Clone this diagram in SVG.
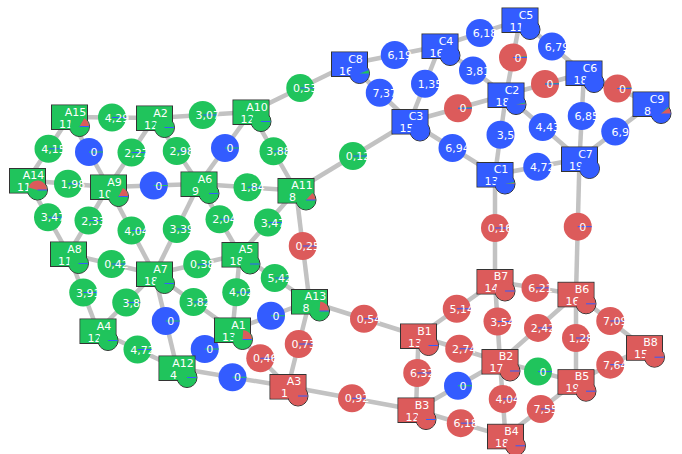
<svg xmlns="http://www.w3.org/2000/svg" xmlns:xlink="http://www.w3.org/1999/xlink" width="682" height="454" viewBox="0 0 682 454">
<style>
.e{stroke:#c2c2c2;stroke-width:4.5;fill:none}
.G{color:#20c45c}.B{color:#335cff}.R{color:#dc5b5b}
text{font-family:"DejaVu Sans","Liberation Sans",sans-serif;font-size:11px;fill:#fff;text-anchor:middle}
.pb{stroke:#335cff;stroke-width:1;fill:none}
.pg{stroke:#20c45c;stroke-width:1;fill:none}
.sr{fill:#dc5b5b}.sg{fill:#20c45c}
</style>
<defs>
<g id="sq">
<rect x="-18" y="-12" width="36" height="24.5" fill="currentColor" stroke="#333" stroke-width="1"/>
<circle cx="10" cy="9.5" r="10" fill="currentColor" stroke="#333" stroke-width="1"/>
<rect x="-17.5" y="-11.5" width="35" height="23.5" fill="currentColor"/>
</g>
<circle id="cap" cx="10" cy="9.5" r="9.5" fill="currentColor"/>
<circle id="dot" r="14" fill="currentColor"/>
<path id="lb" class="pb" d="M0,0h14"/>
<path id="lg" class="pg" d="M0,0h14"/>
<path id="sqb" class="pb" d="M10,9.5h9.5"/>
</defs>
<g id="edges" class="e">
<line x1="69.5" y1="117" x2="154.5" y2="118"/>
<line x1="154.5" y1="118" x2="251" y2="112"/>
<line x1="251" y1="112" x2="349.5" y2="64"/>
<line x1="69.5" y1="117" x2="27.5" y2="180.5"/>
<line x1="69.5" y1="117" x2="108.5" y2="187"/>
<line x1="154.5" y1="118" x2="108.5" y2="187"/>
<line x1="154.5" y1="118" x2="199" y2="184"/>
<line x1="251" y1="112" x2="199" y2="184"/>
<line x1="251" y1="112" x2="296" y2="190.5"/>
<line x1="27.5" y1="180.5" x2="108.5" y2="187"/>
<line x1="108.5" y1="187" x2="199" y2="184"/>
<line x1="199" y1="184" x2="296" y2="190.5"/>
<line x1="296" y1="190.5" x2="410" y2="121.5"/>
<line x1="27.5" y1="180.5" x2="68.5" y2="254"/>
<line x1="108.5" y1="187" x2="68.5" y2="254"/>
<line x1="108.5" y1="187" x2="154.5" y2="274"/>
<line x1="199" y1="184" x2="154.5" y2="274"/>
<line x1="199" y1="184" x2="240" y2="254.5"/>
<line x1="296" y1="190.5" x2="240" y2="254.5"/>
<line x1="296" y1="190.5" x2="309.5" y2="301.5"/>
<line x1="68.5" y1="254" x2="154.5" y2="274"/>
<line x1="154.5" y1="274" x2="240" y2="254.5"/>
<line x1="240" y1="254.5" x2="309.5" y2="301.5"/>
<line x1="68.5" y1="254" x2="98" y2="331"/>
<line x1="154.5" y1="274" x2="98" y2="331"/>
<line x1="154.5" y1="274" x2="232.5" y2="330"/>
<line x1="240" y1="254.5" x2="232.5" y2="330"/>
<line x1="154.5" y1="274" x2="177" y2="368"/>
<line x1="232.5" y1="330" x2="309.5" y2="301.5"/>
<line x1="98" y1="331" x2="177" y2="368"/>
<line x1="177" y1="368" x2="232.5" y2="330"/>
<line x1="309.5" y1="301.5" x2="288" y2="386.5"/>
<line x1="232.5" y1="330" x2="288" y2="386.5"/>
<line x1="177" y1="368" x2="288" y2="386.5"/>
<line x1="309.5" y1="301.5" x2="418.5" y2="336"/>
<line x1="288" y1="386.5" x2="416" y2="410"/>
<line x1="349.5" y1="64" x2="440" y2="46"/>
<line x1="349.5" y1="64" x2="410" y2="121.5"/>
<line x1="440" y1="46" x2="410" y2="121.5"/>
<line x1="440" y1="46" x2="520" y2="20"/>
<line x1="440" y1="46" x2="506" y2="95"/>
<line x1="410" y1="121.5" x2="506" y2="95"/>
<line x1="410" y1="121.5" x2="495" y2="174.5"/>
<line x1="520" y1="20" x2="506" y2="95"/>
<line x1="520" y1="20" x2="584" y2="73"/>
<line x1="506" y1="95" x2="584" y2="73"/>
<line x1="584" y1="73" x2="651" y2="104"/>
<line x1="506" y1="95" x2="495" y2="174.5"/>
<line x1="506" y1="95" x2="579.5" y2="159"/>
<line x1="584" y1="73" x2="579.5" y2="159"/>
<line x1="651" y1="104" x2="579.5" y2="159"/>
<line x1="495" y1="174.5" x2="579.5" y2="159"/>
<line x1="495" y1="174.5" x2="495" y2="281.5"/>
<line x1="579.5" y1="159" x2="576" y2="294.3"/>
<line x1="418.5" y1="336" x2="495" y2="281.5"/>
<line x1="495" y1="281.5" x2="576" y2="294.3"/>
<line x1="495" y1="281.5" x2="500" y2="361.5"/>
<line x1="576" y1="294.3" x2="500" y2="361.5"/>
<line x1="576" y1="294.3" x2="576" y2="381.7"/>
<line x1="576" y1="294.3" x2="644.5" y2="347.7"/>
<line x1="644.5" y1="347.7" x2="576" y2="381.7"/>
<line x1="418.5" y1="336" x2="500" y2="361.5"/>
<line x1="418.5" y1="336" x2="416" y2="410"/>
<line x1="416" y1="410" x2="500" y2="361.5"/>
<line x1="500" y1="361.5" x2="576" y2="381.7"/>
<line x1="500" y1="361.5" x2="505.5" y2="436.3"/>
<line x1="576" y1="381.7" x2="505.5" y2="436.3"/>
<line x1="416" y1="410" x2="505.5" y2="436.3"/>
</g>
<g id="edge-nodes">
<g id="m-A15-A2" class="G" transform="translate(112,117.5)"><use href="#dot"/><use href="#lb"/><text x="5" y="4">4,29</text></g>
<g id="m-A2-A10" class="G" transform="translate(202.75,115)"><use href="#dot"/><use href="#lb"/><text x="5" y="4">3,07</text></g>
<g id="m-A10-C8" class="G" transform="translate(300.25,88)"><use href="#dot"/><use href="#lb"/><text x="5" y="4">0,53</text></g>
<g id="m-A15-A14" class="G" transform="translate(48.5,148.75)"><use href="#dot"/><use href="#lb"/><text x="5" y="4">4,15</text></g>
<g id="m-A15-A9" class="B" transform="translate(89,152)"><use href="#dot"/><use href="#lg"/><text x="5" y="4">0</text></g>
<g id="m-A2-A9" class="G" transform="translate(131.5,152.5)"><use href="#dot"/><use href="#lb"/><text x="5" y="4">2,27</text></g>
<g id="m-A2-A6" class="G" transform="translate(176.75,151)"><use href="#dot"/><use href="#lb"/><text x="5" y="4">2,98</text></g>
<g id="m-A10-A6" class="B" transform="translate(225,148)"><use href="#dot"/><use href="#lg"/><text x="5" y="4">0</text></g>
<g id="m-A10-A11" class="G" transform="translate(273.5,151.25)"><use href="#dot"/><use href="#lb"/><text x="5" y="4">3,88</text></g>
<g id="m-A14-A9" class="G" transform="translate(68,183.75)"><use href="#dot"/><use href="#lb"/><text x="5" y="4">1,98</text></g>
<g id="m-A9-A6" class="B" transform="translate(153.75,185.5)"><use href="#dot"/><use href="#lg"/><text x="5" y="4">0</text></g>
<g id="m-A6-A11" class="G" transform="translate(247.5,187.25)"><use href="#dot"/><use href="#lb"/><text x="5" y="4">1,84</text></g>
<g id="m-A11-C3" class="G" transform="translate(353,156)"><use href="#dot"/><use href="#lb"/><text x="5" y="4">0,12</text></g>
<g id="m-A14-A8" class="G" transform="translate(48,217.25)"><use href="#dot"/><use href="#lb"/><text x="5" y="4">3,47</text></g>
<g id="m-A9-A8" class="G" transform="translate(88.5,220.5)"><use href="#dot"/><use href="#lb"/><text x="5" y="4">2,33</text></g>
<g id="m-A9-A7" class="G" transform="translate(131.5,230.5)"><use href="#dot"/><use href="#lb"/><text x="5" y="4">4,04</text></g>
<g id="m-A6-A7" class="G" transform="translate(176.75,229)"><use href="#dot"/><use href="#lb"/><text x="5" y="4">3,39</text></g>
<g id="m-A6-A5" class="G" transform="translate(219.5,219.25)"><use href="#dot"/><use href="#lb"/><text x="5" y="4">2,04</text></g>
<g id="m-A11-A5" class="G" transform="translate(268,222.5)"><use href="#dot"/><use href="#lb"/><text x="5" y="4">3,47</text></g>
<g id="m-A11-A13" class="R" transform="translate(302.75,246)"><use href="#dot"/><use href="#lb"/><text x="5" y="4">0,25</text></g>
<g id="m-A8-A7" class="G" transform="translate(111.5,264)"><use href="#dot"/><use href="#lb"/><text x="5" y="4">0,42</text></g>
<g id="m-A7-A5" class="G" transform="translate(197.25,264.25)"><use href="#dot"/><use href="#lb"/><text x="5" y="4">0,38</text></g>
<g id="m-A5-A13" class="G" transform="translate(274.75,278)"><use href="#dot"/><use href="#lb"/><text x="5" y="4">5,42</text></g>
<g id="m-A8-A4" class="G" transform="translate(83.25,292.5)"><use href="#dot"/><use href="#lb"/><text x="5" y="4">3,91</text></g>
<g id="m-A7-A4" class="G" transform="translate(126.25,302.5)"><use href="#dot"/><use href="#lb"/><text x="5" y="4">3,8</text></g>
<g id="m-A7-A1" class="G" transform="translate(193.5,302)"><use href="#dot"/><use href="#lb"/><text x="5" y="4">3,82</text></g>
<g id="m-A5-A1" class="G" transform="translate(236.25,292.25)"><use href="#dot"/><use href="#lb"/><text x="5" y="4">4,02</text></g>
<g id="m-A7-A12" class="B" transform="translate(165.75,321)"><use href="#dot"/><use href="#lg"/><text x="5" y="4">0</text></g>
<g id="m-A1-A13" class="B" transform="translate(271,315.75)"><use href="#dot"/><use href="#lg"/><text x="5" y="4">0</text></g>
<g id="m-A4-A12" class="G" transform="translate(137.5,349.5)"><use href="#dot"/><use href="#lb"/><text x="5" y="4">4,72</text></g>
<g id="m-A12-A1" class="B" transform="translate(204.75,349)"><use href="#dot"/><use href="#lg"/><text x="5" y="4">0</text></g>
<g id="m-A13-A3" class="R" transform="translate(298.75,344)"><use href="#dot"/><use href="#lb"/><text x="5" y="4">0,73</text></g>
<g id="m-A1-A3" class="R" transform="translate(260.25,358.25)"><use href="#dot"/><use href="#lb"/><text x="5" y="4">0,46</text></g>
<g id="m-A12-A3" class="B" transform="translate(232.5,377.25)"><use href="#dot"/><use href="#lg"/><text x="5" y="4">0</text></g>
<g id="m-A13-B1" class="R" transform="translate(364,318.75)"><use href="#dot"/><use href="#lb"/><text x="5" y="4">0,54</text></g>
<g id="m-A3-B3" class="R" transform="translate(352,398.25)"><use href="#dot"/><use href="#lb"/><text x="5" y="4">0,92</text></g>
<g id="m-C8-C4" class="B" transform="translate(394.75,55)"><use href="#dot"/><text x="5" y="4">6,19</text></g>
<g id="m-C8-C3" class="B" transform="translate(379.75,92.75)"><use href="#dot"/><text x="5" y="4">7,37</text></g>
<g id="m-C4-C3" class="B" transform="translate(425,83.75)"><use href="#dot"/><text x="5" y="4">1,35</text></g>
<g id="m-C4-C5" class="B" transform="translate(480,33)"><use href="#dot"/><text x="5" y="4">6,18</text></g>
<g id="m-C4-C2" class="B" transform="translate(473,70.5)"><use href="#dot"/><text x="5" y="4">3,81</text></g>
<g id="m-C3-C2" class="R" transform="translate(458,108.25)"><use href="#dot"/><path class="pg" d="M0,0L14,-0.6"/><use href="#lb"/><text x="5" y="4">0</text></g>
<g id="m-C3-C1" class="B" transform="translate(452.5,148)"><use href="#dot"/><text x="5" y="4">6,94</text></g>
<g id="m-C5-C2" class="R" transform="translate(513,57.5)"><use href="#dot"/><path class="pg" d="M0,0L14,-0.6"/><use href="#lb"/><text x="5" y="4">0</text></g>
<g id="m-C5-C6" class="B" transform="translate(552,46.5)"><use href="#dot"/><text x="5" y="4">6,79</text></g>
<g id="m-C2-C6" class="R" transform="translate(545,84)"><use href="#dot"/><path class="pg" d="M0,0L14,-0.6"/><use href="#lb"/><text x="5" y="4">0</text></g>
<g id="m-C6-C9" class="R" transform="translate(617.5,88.5)"><use href="#dot"/><path class="pg" d="M0,0L14,-0.6"/><use href="#lb"/><text x="5" y="4">0</text></g>
<g id="m-C2-C1" class="B" transform="translate(500.5,134.75)"><use href="#dot"/><text x="5" y="4">3,5</text></g>
<g id="m-C2-C7" class="B" transform="translate(542.75,127)"><use href="#dot"/><text x="5" y="4">4,43</text></g>
<g id="m-C6-C7" class="B" transform="translate(581.75,116)"><use href="#dot"/><text x="5" y="4">6,85</text></g>
<g id="m-C9-C7" class="B" transform="translate(615.25,131.5)"><use href="#dot"/><text x="5" y="4">6,9</text></g>
<g id="m-C1-C7" class="B" transform="translate(537.25,166.75)"><use href="#dot"/><text x="5" y="4">4,72</text></g>
<g id="m-C1-B7" class="R" transform="translate(495,228)"><use href="#dot"/><use href="#lb"/><text x="5" y="4">0,16</text></g>
<g id="m-C7-B6" class="R" transform="translate(577.75,226.65)"><use href="#dot"/><use href="#lb"/><text x="5" y="4">0</text></g>
<g id="m-B1-B7" class="R" transform="translate(456.75,308.75)"><use href="#dot"/><use href="#lb"/><text x="5" y="4">5,14</text></g>
<g id="m-B7-B6" class="R" transform="translate(535.5,287.9)"><use href="#dot"/><use href="#lb"/><text x="5" y="4">6,21</text></g>
<g id="m-B7-B2" class="R" transform="translate(497.5,321.5)"><use href="#dot"/><use href="#lb"/><text x="5" y="4">3,54</text></g>
<g id="m-B6-B2" class="R" transform="translate(538,327.9)"><use href="#dot"/><use href="#lb"/><text x="5" y="4">2,42</text></g>
<g id="m-B6-B5" class="R" transform="translate(576,338)"><use href="#dot"/><use href="#lb"/><text x="5" y="4">1,28</text></g>
<g id="m-B6-B8" class="R" transform="translate(610.25,321)"><use href="#dot"/><use href="#lb"/><text x="5" y="4">7,09</text></g>
<g id="m-B8-B5" class="R" transform="translate(610.25,364.7)"><use href="#dot"/><use href="#lb"/><text x="5" y="4">7,64</text></g>
<g id="m-B1-B2" class="R" transform="translate(459.25,348.75)"><use href="#dot"/><use href="#lb"/><text x="5" y="4">2,74</text></g>
<g id="m-B1-B3" class="R" transform="translate(417.25,373)"><use href="#dot"/><use href="#lb"/><text x="5" y="4">6,32</text></g>
<g id="m-B3-B2" class="B" transform="translate(458,385.75)"><use href="#dot"/><use href="#lg"/><text x="5" y="4">0</text></g>
<g id="m-B2-B5" class="G" transform="translate(538,371.6)"><use href="#dot"/><use href="#lb"/><text x="5" y="4">0</text></g>
<g id="m-B2-B4" class="R" transform="translate(502.75,398.9)"><use href="#dot"/><use href="#lb"/><text x="5" y="4">4,04</text></g>
<g id="m-B5-B4" class="R" transform="translate(540.75,409)"><use href="#dot"/><use href="#lb"/><text x="5" y="4">7,55</text></g>
<g id="m-B3-B4" class="R" transform="translate(460.75,423.15)"><use href="#dot"/><use href="#lb"/><text x="5" y="4">6,18</text></g>
</g>
<g id="nodes">
<g id="A15" class="G" transform="translate(69.5,117)"><use href="#sq"/><text x="6" y="-1.5">A15</text><text x="-3.5" y="10.5">11</text><use href="#cap"/><path class="sr" d="M10,9.5h9.5A9.5,9.5 0 0 0 14.75,1.27Z"/><use href="#sqb"/></g>
<g id="A2" class="G" transform="translate(154.5,118)"><use href="#sq"/><text x="6" y="-1.5">A2</text><text x="-3.5" y="10.5">12</text><use href="#cap"/><use href="#sqb"/></g>
<g id="A10" class="G" transform="translate(251,112)"><use href="#sq"/><text x="6" y="-1.5">A10</text><text x="-3.5" y="10.5">12</text><use href="#cap"/><use href="#sqb"/></g>
<g id="A14" class="G" transform="translate(27.5,180.5)"><use href="#sq"/><text x="6" y="-1.5">A14</text><text x="-3.5" y="10.5">11</text><use href="#cap"/><path class="sr" d="M10,9.5h9.5A9.5,9.5 0 0 0 0.82,7.04Z"/><use href="#sqb"/></g>
<g id="A9" class="G" transform="translate(108.5,187)"><use href="#sq"/><text x="6" y="-1.5">A9</text><text x="-3.5" y="10.5">10</text><use href="#cap"/><path class="sr" d="M10,9.5h9.5A9.5,9.5 0 0 0 14.46,1.11Z"/><use href="#sqb"/></g>
<g id="A6" class="G" transform="translate(199,184)"><use href="#sq"/><text x="6" y="-1.5">A6</text><text x="-3.5" y="10.5">9</text><use href="#cap"/><use href="#sqb"/></g>
<g id="A11" class="G" transform="translate(296,190.5)"><use href="#sq"/><text x="6" y="-1.5">A11</text><text x="-3.5" y="10.5">8</text><use href="#cap"/><path class="sr" d="M10,9.5h9.5A9.5,9.5 0 0 0 16.48,2.55Z"/><use href="#sqb"/></g>
<g id="A8" class="G" transform="translate(68.5,254)"><use href="#sq"/><text x="6" y="-1.5">A8</text><text x="-3.5" y="10.5">11</text><use href="#cap"/><use href="#sqb"/></g>
<g id="A7" class="G" transform="translate(154.5,274)"><use href="#sq"/><text x="6" y="-1.5">A7</text><text x="-3.5" y="10.5">18</text><use href="#cap"/><use href="#sqb"/></g>
<g id="A4" class="G" transform="translate(98,331)"><use href="#sq"/><text x="6" y="-1.5">A4</text><text x="-3.5" y="10.5">12</text><use href="#cap"/><use href="#sqb"/></g>
<g id="A12" class="G" transform="translate(177,368)"><use href="#sq"/><text x="6" y="-1.5">A12</text><text x="-3.5" y="10.5">4</text><use href="#cap"/><use href="#sqb"/></g>
<g id="A5" class="G" transform="translate(240,254.5)"><use href="#sq"/><text x="6" y="-1.5">A5</text><text x="-3.5" y="10.5">18</text><use href="#cap"/><use href="#sqb"/></g>
<g id="A1" class="G" transform="translate(232.5,330)"><use href="#sq"/><text x="6" y="-1.5">A1</text><text x="-3.5" y="10.5">13</text><use href="#cap"/><path class="sr" d="M10,9.5h9.5A9.5,9.5 0 0 0 10.83,0.04Z"/><use href="#sqb"/></g>
<g id="A13" class="G" transform="translate(309.5,301.5)"><use href="#sq"/><text x="6" y="-1.5">A13</text><text x="-3.5" y="10.5">8</text><use href="#cap"/><path class="sr" d="M10,9.5h9.5A9.5,9.5 0 0 0 10.83,0.04Z"/><use href="#sqb"/></g>
<g id="A3" class="R" transform="translate(288,386.5)"><use href="#sq"/><text x="6" y="-1.5">A3</text><text x="-3.5" y="10.5">1</text><use href="#cap"/><use href="#sqb"/></g>
<g id="C8" class="B" transform="translate(349.5,64)"><use href="#sq"/><text x="6" y="-1.5">C8</text><text x="-3.5" y="10.5">16</text><use href="#cap"/><path class="sg" d="M10,9.5h9.5A9.5,9.5 0 0 0 18.93,6.25Z"/></g>
<g id="C4" class="B" transform="translate(440,46)"><use href="#sq"/><text x="6" y="-1.5">C4</text><text x="-3.5" y="10.5">16</text><use href="#cap"/></g>
<g id="C3" class="B" transform="translate(410,121.5)"><use href="#sq"/><text x="6" y="-1.5">C3</text><text x="-3.5" y="10.5">15</text><use href="#cap"/></g>
<g id="C5" class="B" transform="translate(520,20)"><use href="#sq"/><text x="6" y="-1.5">C5</text><text x="-3.5" y="10.5">11</text><use href="#cap"/></g>
<g id="C2" class="B" transform="translate(506,95)"><use href="#sq"/><text x="6" y="-1.5">C2</text><text x="-3.5" y="10.5">18</text><use href="#cap"/><path class="sr" d="M10,9.5h9.5A9.5,9.5 0 0 0 19.45,8.51Z"/><path class="sg" d="M10,9.5L19.45,8.51A9.5,9.5 0 0 0 19.29,7.52Z"/></g>
<g id="C6" class="B" transform="translate(584,73)"><use href="#sq"/><text x="6" y="-1.5">C6</text><text x="-3.5" y="10.5">18</text><use href="#cap"/></g>
<g id="C9" class="B" transform="translate(651,104)"><use href="#sq"/><text x="6" y="-1.5">C9</text><text x="-3.5" y="10.5">8</text><use href="#cap"/><path class="sr" d="M10,9.5h9.5A9.5,9.5 0 0 0 17.49,3.65Z"/><path class="sg" d="M10,9.5L17.49,3.65A9.5,9.5 0 0 0 16.83,2.9Z"/></g>
<g id="C1" class="B" transform="translate(495,174.5)"><use href="#sq"/><text x="6" y="-1.5">C1</text><text x="-3.5" y="10.5">13</text><use href="#cap"/><path class="sr" d="M10,9.5h9.5A9.5,9.5 0 0 0 19.45,8.51Z"/><path class="sg" d="M10,9.5L19.45,8.51A9.5,9.5 0 0 0 19.29,7.52Z"/></g>
<g id="C7" class="B" transform="translate(579.5,159)"><use href="#sq"/><text x="6" y="-1.5">C7</text><text x="-3.5" y="10.5">19</text><use href="#cap"/></g>
<g id="B7" class="R" transform="translate(495,281.5)"><use href="#sq"/><text x="6" y="-1.5">B7</text><text x="-3.5" y="10.5">14</text><use href="#cap"/><use href="#sqb"/></g>
<g id="B1" class="R" transform="translate(418.5,336)"><use href="#sq"/><text x="6" y="-1.5">B1</text><text x="-3.5" y="10.5">13</text><use href="#cap"/><use href="#sqb"/></g>
<g id="B2" class="R" transform="translate(500,361.5)"><use href="#sq"/><text x="6" y="-1.5">B2</text><text x="-3.5" y="10.5">17</text><use href="#cap"/><use href="#sqb"/></g>
<g id="B3" class="R" transform="translate(416,410)"><use href="#sq"/><text x="6" y="-1.5">B3</text><text x="-3.5" y="10.5">12</text><use href="#cap"/><use href="#sqb"/></g>
<g id="B4" class="R" transform="translate(505.5,436.3)"><use href="#sq"/><text x="6" y="-1.5">B4</text><text x="-3.5" y="10.5">18</text><use href="#cap"/><use href="#sqb"/></g>
<g id="B6" class="R" transform="translate(576,294.3)"><use href="#sq"/><text x="6" y="-1.5">B6</text><text x="-3.5" y="10.5">16</text><use href="#cap"/><use href="#sqb"/></g>
<g id="B8" class="R" transform="translate(644.5,347.7)"><use href="#sq"/><text x="6" y="-1.5">B8</text><text x="-3.5" y="10.5">15</text><use href="#cap"/><use href="#sqb"/></g>
<g id="B5" class="R" transform="translate(576,381.7)"><use href="#sq"/><text x="6" y="-1.5">B5</text><text x="-3.5" y="10.5">19</text><use href="#cap"/><use href="#sqb"/></g>
</g>
</svg>
